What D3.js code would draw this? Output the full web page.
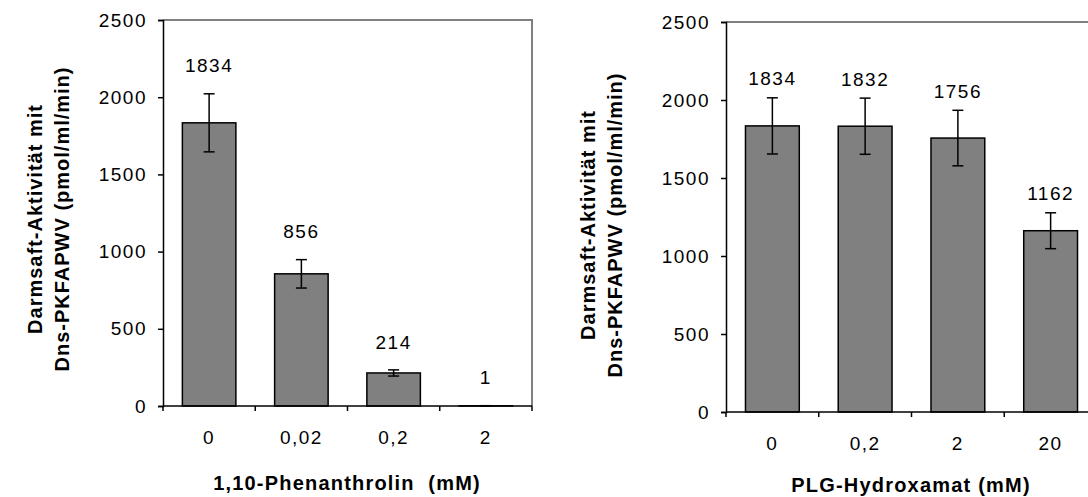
<!DOCTYPE html>
<html>
<head>
<meta charset="utf-8">
<script src="https://cdn.jsdelivr.net/npm/d3@7"></script>
<style>
  html, body { margin: 0; padding: 0; background: #fff; }
  svg text { font-family: "Liberation Sans", Arial, sans-serif; fill: #000; white-space: pre; }
  .num { font-size: 19px; letter-spacing: 1.5px; }
  .ttl { font-size: 20px; font-weight: bold; letter-spacing: 1.2px; }
</style>
</head>
<body>
<svg id="chart" width="1088" height="497"></svg>
<script>
// Inhibitor series: 1,10-Phenanthrolin
const phenCategories = ["0", "0,02", "0,2", "2"];
const phenValues = [1834, 856, 214, 1];
const phenErrors = [188, 92, 20, 1];

// Inhibitor series: PLG-Hydroxamat
const plgCategories = ["0", "0,2", "2", "20"];
const plgValues = [1834, 1832, 1756, 1162];
const plgErrors = [180, 180, 178, 115];

const yTicks = [0, 500, 1000, 1500, 2000, 2500];
const yTitleLines = ["Darmsaft-Aktivität mit", "Dns-PKFAPWV (pmol/ml/min)"];
const phenTitle = "1,10-Phenanthrolin  (mM)";
const plgTitle = "PLG-Hydroxamat (mM)";

const svg = d3.select("#chart");

function drawPanel(opt) {
  const g = svg.append("g");
  const x = d3.scaleBand()
    .domain(opt.categories)
    .range([opt.left, opt.right])
    .paddingInner(0.42)
    .paddingOuter(0.21);
  const y = d3.scaleLinear().domain([0, 2500]).range([opt.bottom, opt.top]);

  // plot frame (top and right edges)
  g.append("path")
    .attr("d", `M${opt.left},${opt.top}H${opt.right}V${opt.bottom}`)
    .attr("fill", "none")
    .attr("stroke", "#808080")
    .attr("stroke-width", 2);

  // bars
  g.selectAll("rect.bar")
    .data(opt.values)
    .join("rect")
    .attr("class", "bar")
    .attr("x", (d, i) => x(opt.categories[i]))
    .attr("width", x.bandwidth())
    .attr("y", d => y(d))
    .attr("height", d => y(0) - y(d))
    .attr("fill", "#808080")
    .attr("stroke", "#000")
    .attr("stroke-width", 1.5);

  // error bars
  const cx = i => x(opt.categories[i]) + x.bandwidth() / 2;
  const err = g.selectAll("g.err")
    .data(opt.values)
    .join("g")
    .attr("class", "err")
    .attr("stroke", "#000")
    .attr("stroke-width", 1.5);
  err.append("line")
    .attr("x1", (d, i) => cx(i)).attr("x2", (d, i) => cx(i))
    .attr("y1", (d, i) => y(d + opt.errors[i]))
    .attr("y2", (d, i) => y(d - opt.errors[i]));
  err.append("line")
    .attr("x1", (d, i) => cx(i) - 5.5).attr("x2", (d, i) => cx(i) + 5.5)
    .attr("y1", (d, i) => y(d + opt.errors[i]))
    .attr("y2", (d, i) => y(d + opt.errors[i]));
  err.append("line")
    .attr("x1", (d, i) => cx(i) - 5.5).attr("x2", (d, i) => cx(i) + 5.5)
    .attr("y1", (d, i) => y(d - opt.errors[i]))
    .attr("y2", (d, i) => y(d - opt.errors[i]));

  // value labels
  g.selectAll("text.val")
    .data(opt.values)
    .join("text")
    .attr("class", "val num")
    .attr("x", (d, i) => cx(i))
    .attr("y", (d, i) => y(d + opt.errors[i]) - opt.labelGap)
    .attr("dy", "0.35em")
    .attr("text-anchor", "middle")
    .text(d => d);

  // y axis
  const yAxis = g.append("g")
    .attr("transform", `translate(${opt.left},0)`)
    .call(d3.axisLeft(y).tickValues(yTicks).tickFormat(d3.format("d"))
      .tickSize(5).tickPadding(11));
  yAxis.select(".domain").attr("stroke", "#000").attr("stroke-width", 1.5);
  yAxis.selectAll(".tick line").attr("stroke", "#000").attr("stroke-width", 1.5);
  yAxis.selectAll(".tick text").attr("class", "num").attr("fill", "#000");

  // x axis (ticks on category boundaries)
  const xAxis = g.append("g").attr("transform", `translate(0,${opt.bottom})`);
  xAxis.append("line")
    .attr("x1", opt.left).attr("x2", opt.right)
    .attr("stroke", "#000").attr("stroke-width", 1.5);
  const step = x.step();
  const boundaries = d3.range(opt.categories.length + 1).map(i => opt.left + i * step);
  xAxis.selectAll("line.tk")
    .data(boundaries)
    .join("line")
    .attr("class", "tk")
    .attr("x1", d => d).attr("x2", d => d)
    .attr("y1", 0).attr("y2", 5)
    .attr("stroke", "#000").attr("stroke-width", 1.5);
  xAxis.selectAll("text.cat")
    .data(opt.categories)
    .join("text")
    .attr("class", "cat num")
    .attr("x", d => cx(opt.categories.indexOf(d)))
    .attr("y", 31)
    .attr("dy", "0.35em")
    .attr("text-anchor", "middle")
    .text(d => d);

  // x title
  g.append("text")
    .attr("class", "ttl")
    .attr("x", opt.xTitleX)
    .attr("y", opt.bottom + opt.xTitleGap)
    .attr("dy", "0.35em")
    .attr("text-anchor", "middle")
    .text(opt.xTitle);

  // y title (two lines)
  yTitleLines.forEach((t, k) => {
    g.append("text")
      .attr("class", "ttl")
      .attr("transform", `translate(${opt.yTitleX + k * 27},${opt.yTitleY}) rotate(-90)`)
      .attr("dy", "0.35em")
      .attr("text-anchor", "middle")
      .style("letter-spacing", "1px")
      .text(t);
  });
}

drawPanel({
  categories: phenCategories, values: phenValues, errors: phenErrors,
  left: 163, right: 532, top: 20, bottom: 406,
  labelGap: 28, xTitle: phenTitle, xTitleGap: 77, xTitleX: 347,
  yTitleX: 35, yTitleY: 219
});

drawPanel({
  categories: plgCategories, values: plgValues, errors: plgErrors,
  left: 726, right: 1097, top: 22, bottom: 412,
  labelGap: 19, xTitle: plgTitle, xTitleGap: 73, xTitleX: 911,
  yTitleX: 588, yTitleY: 225
});
</script>
</body>
</html>
